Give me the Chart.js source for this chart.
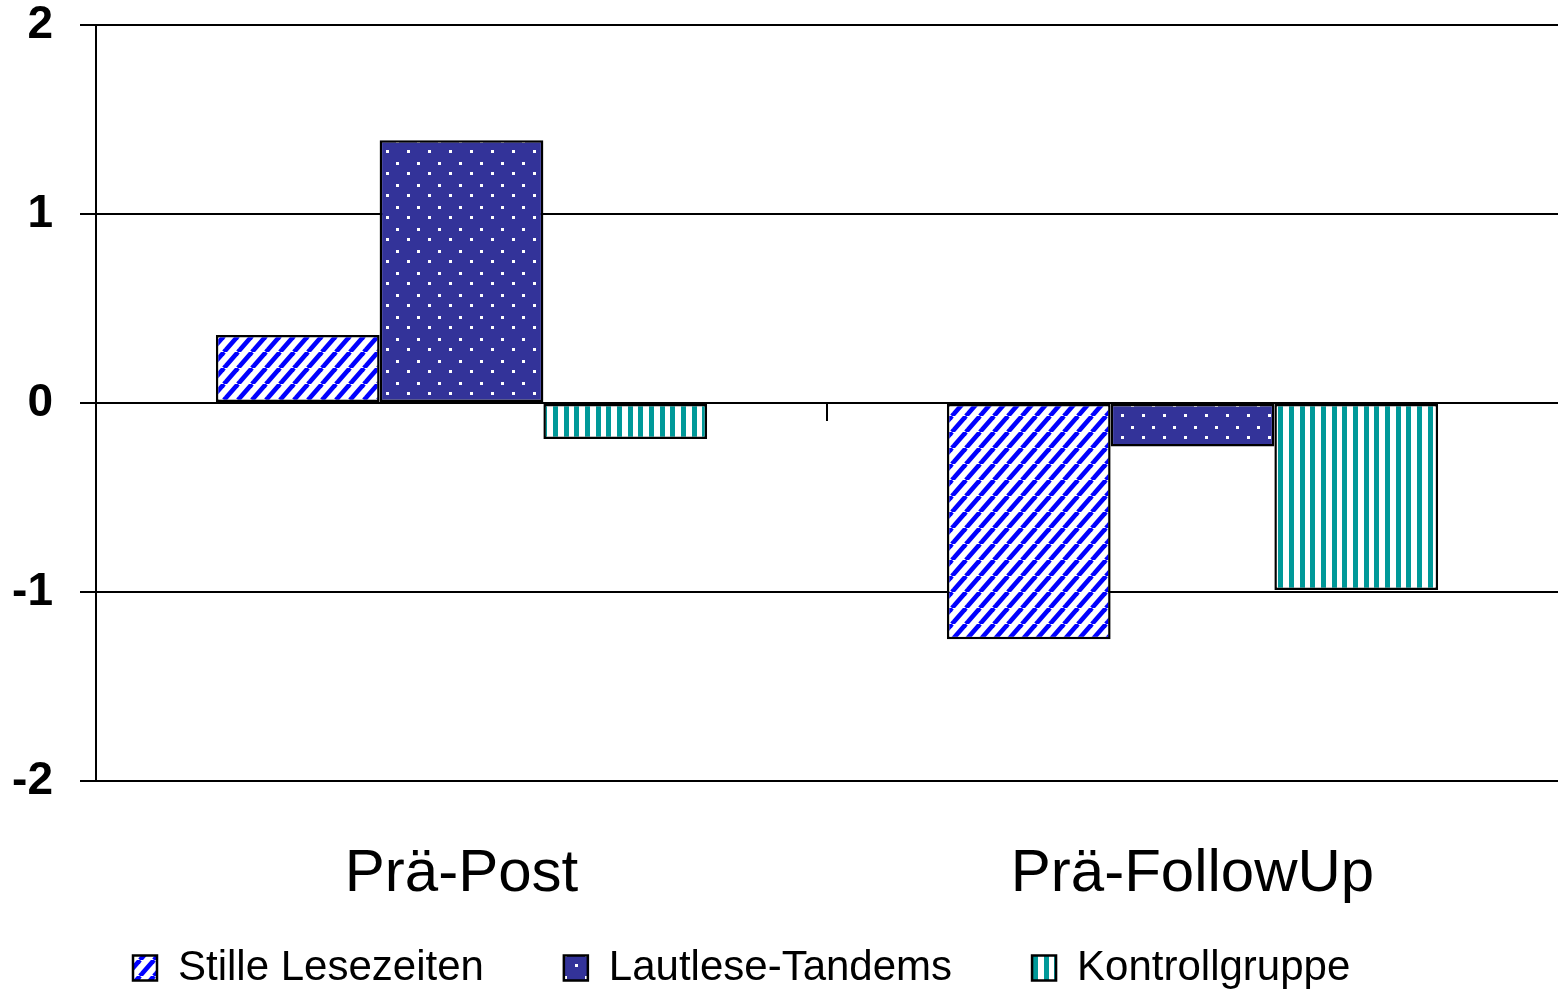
<!DOCTYPE html>
<html><head><meta charset="utf-8">
<script src="https://cdn.jsdelivr.net/npm/chart.js@4/dist/chart.umd.min.js"></script>
<style>html,body{margin:0;padding:0;background:#fff}#wrap{position:relative;width:1558px;height:992px}</style>
</head><body><div id="wrap"><canvas id="c"></canvas></div>
<script>
const categories = ['Prä-Post', 'Prä-FollowUp'];
const seriesNames = ['Stille Lesezeiten', 'Lautlese-Tandems', 'Kontrollgruppe'];
const stilleLesezeiten = [0.36, -1.25];
const lautleseTandems = [1.39, -0.23];
const kontrollgruppe = [-0.19, -0.99];
const yTicks = [-2, -1, 0, 1, 2];

function tile(w, h, draw) {
  const c = document.createElement('canvas'); c.width = w; c.height = h;
  const g = c.getContext('2d'); draw(g, w, h);
  return document.createElement('canvas').getContext('2d').createPattern(c, 'repeat');
}
const patDiag = tile(14, 16, (g, w, h) => {
  g.fillStyle = '#fff'; g.fillRect(0, 0, w, h);
  g.strokeStyle = '#0000ff'; g.lineWidth = 4.6;
  for (let k = -1; k <= 1; k++) { g.beginPath(); g.moveTo(k * w, h); g.lineTo((k + 1) * w, 0); g.stroke(); }
});
const patDots = tile(21, 22, (g, w, h) => {
  g.fillStyle = '#333399'; g.fillRect(0, 0, w, h);
  g.fillStyle = '#fff'; g.fillRect(8, 18, 3, 3); g.fillRect(18, 8, 3, 3);
});
const patVert = tile(32, 4, (g, w, h) => {
  g.fillStyle = '#fff'; g.fillRect(0, 0, w, h);
  g.fillStyle = '#009999';
  g.fillRect(9, 0, 5, h); g.fillRect(20, 0, 5, h); g.fillRect(30, 0, 2, h); g.fillRect(0, 0, 3, h);
});

Chart.defaults.font.family = "'Liberation Sans', Arial, sans-serif";
Chart.defaults.color = '#000';

const layoutTweaks = {
  id: 'layoutTweaks',
  afterLayout(chart) {
    const l = chart.legend;
    if (l) {
      const p = l.options.labels.padding;
      const dx = (133 - p) - l.left;
      l.left += dx; l.right += dx; l.top += 7; l.bottom += 7;
    }
    // let the category labels extend below the axis box (no clipping)
    chart.scales.x.bottom = chart.height;
  }
};

new Chart(document.getElementById('c'), {
  type: 'bar',
  data: {
    labels: categories,
    datasets: [
      { label: seriesNames[0], data: stilleLesezeiten, backgroundColor: patDiag },
      { label: seriesNames[1], data: lautleseTandems, backgroundColor: patDots },
      { label: seriesNames[2], data: kontrollgruppe, backgroundColor: patVert }
    ]
  },
  options: {
    responsive: true, maintainAspectRatio: false, animation: false,
    layout: { padding: { top: 25, left: 0, right: 0, bottom: 0 } },
    datasets: { bar: { categoryPercentage: 0.672, barPercentage: 1, borderColor: '#000', borderWidth: 2.5, borderSkipped: false } },
    plugins: {
      legend: { position: 'bottom', align: 'start',
        labels: { boxWidth: 24, boxHeight: 25, padding: 80, color: '#000', font: { size: 42 } } },
      tooltip: { enabled: false }
    },
    scales: {
      x: {
        grid: { display: false, drawTicks: false }, border: { display: false },
        ticks: { color: '#000', font: { size: 60 }, padding: 57 },
        afterFit(s) { s.height = 79; }
      },
      x2: {
        type: 'category', labels: categories, position: { y: 0 }, offset: true,
        grid: { offset: true, drawOnChartArea: false, drawTicks: true, tickLength: 18, lineWidth: 2,
          color: (c) => (c.index === 1 ? '#000' : 'rgba(0,0,0,0)') },
        border: { display: false }, ticks: { display: false }
      },
      y: {
        min: yTicks[0], max: yTicks[yTicks.length - 1],
        afterBuildTicks(s) { s.ticks = yTicks.map(v => ({ value: v })); },
        ticks: { color: '#000', font: { size: 46, weight: 'bold', lineHeight: 1 }, padding: 27 },
        grid: { color: '#000', lineWidth: 2, tickLength: 16 },
        border: { color: '#000', width: 2 },
        afterFit(s) { s.width = 96; s.paddingTop = 0; s.paddingBottom = 0; }
      }
    }
  },
  plugins: [layoutTweaks]
});
</script></body></html>
